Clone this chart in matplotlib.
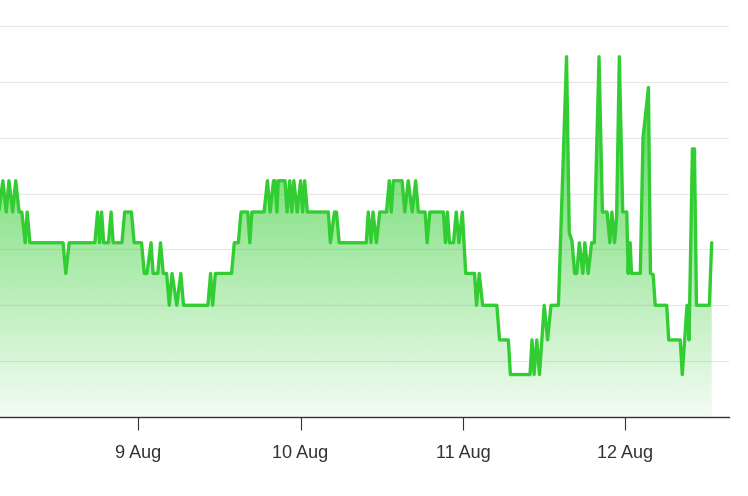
import numpy as np
import pandas as pd
import matplotlib
matplotlib.use("Agg")
import matplotlib.pyplot as plt
import matplotlib.dates as mdates
from matplotlib.ticker import FuncFormatter

plt.rcParams["font.family"] = ["Liberation Sans", "DejaVu Sans"]

# readings: hours since 8 Aug 00:00 and the level at that moment
start = pd.Timestamp("2024-08-08")
hours = [
    3.4, 4.0, 4.5, 4.9, 5.45, 5.9, 6.4, 6.8, 7.3, 7.6, 8.0, 12.9, 13.3, 13.8,
    17.6, 18.0, 18.3, 18.6, 18.9, 19.6, 20.0, 20.3, 21.6, 22.0, 23.0, 23.4,
    24.5, 24.9, 25.3, 25.9, 26.2, 26.9, 27.3, 27.7, 28.2, 28.6, 29.0, 29.7,
    30.3, 30.7, 34.3, 34.7, 35.0, 35.4, 37.8, 38.2, 38.8, 39.2, 40.2, 40.5,
    40.8, 42.6, 43.1, 43.5, 44.0, 44.2, 44.5, 44.7, 45.7, 46.0, 46.4, 46.7,
    47.0, 47.5, 48.0, 48.3, 48.6, 49.0, 52.1, 52.4, 53.0, 53.3, 53.7, 57.7,
    58.0, 58.4, 58.7, 59.2, 59.7, 60.7, 61.1, 61.4, 61.7, 63.0, 63.4, 63.9,
    64.5, 65.0, 65.4, 66.4, 66.7, 67.1, 69.1, 69.4, 69.7, 70.0, 70.6, 71.0,
    71.4, 71.9, 72.4, 73.7, 74.0, 74.4, 74.9, 77.0, 77.4, 78.7, 79.0, 81.9,
    82.2, 82.5, 82.9, 83.3, 84.0, 84.5, 85.0, 86.1, 87.3, 87.7, 88.1, 88.5,
    88.8, 89.2, 89.7, 90.0, 90.5, 91.0, 91.4, 92.1, 92.6, 93.3, 93.7, 94.0,
    94.4, 94.7, 95.1, 95.6, 96.2, 96.4, 96.7, 96.9, 98.2, 98.6, 99.4, 99.7,
    100.1, 100.4, 102.1, 102.4, 104.1, 104.4, 105.1, 105.4, 105.9, 106.2,
    106.5, 108.4, 108.75,
]
values = [
    3.67, 4.23, 3.67, 4.23, 3.67, 4.23, 3.67, 3.67, 3.12, 3.67, 3.12, 3.12, 2.57, 3.12,
    3.12, 3.67, 3.12, 3.67, 3.12, 3.12, 3.67, 3.12, 3.12, 3.67, 3.67, 3.12,
    3.12, 2.57, 2.57, 3.12, 2.57, 2.57, 3.12, 2.57, 2.57, 2.0, 2.57, 2.0,
    2.57, 2.0, 2.0, 2.57, 2.0, 2.57, 2.57, 3.12, 3.12, 3.67, 3.67, 3.12,
    3.67, 3.67, 4.23, 3.67, 4.23, 4.23, 3.67, 4.23, 4.23, 3.67, 4.23, 3.67,
    4.23, 3.67, 4.23, 3.67, 4.23, 3.67, 3.67, 3.12, 3.67, 3.67, 3.12, 3.12,
    3.67, 3.12, 3.67, 3.12, 3.67, 3.67, 4.23, 3.67, 4.23, 4.23, 3.67, 4.23,
    3.67, 4.23, 3.67, 3.67, 3.12, 3.67, 3.67, 3.12, 3.67, 3.12, 3.12, 3.67,
    3.12, 3.67, 2.57, 2.57, 2.0, 2.57, 2.0, 2.0, 1.38, 1.38, 0.76, 0.76,
    1.38, 0.76, 1.38, 0.76, 2.0, 1.38, 2.0, 2.0, 6.45, 3.3, 3.15, 2.57,
    2.57, 3.12, 2.57, 3.12, 2.57, 3.12, 3.12, 6.45, 3.67, 3.67, 3.12, 3.67,
    3.12, 3.6, 6.45, 3.67, 3.67, 2.57, 3.12, 2.57, 2.57, 5.0, 5.9, 2.57,
    2.55, 2.0, 2.0, 1.38, 1.38, 0.76, 2.0, 1.38, 4.8, 4.8,
    2.0, 2.0, 3.12,
]
x_start_h, x_end_h = 3.58, 111.35
y_max = 7

line_color = "#32cd32"

times = start + pd.to_timedelta(hours, unit="h")
x = mdates.date2num(times)
y = np.array(values)

fig = plt.figure(figsize=(7.48, 4.96), dpi=100)
ax = fig.add_axes([0, 79 / 496, 729.3 / 748, 391 / 496])

# gradient fill under the line, clipped to the area shape
area = ax.fill_between(x, y, 0, facecolor="none", edgecolor="none")
grad = np.zeros((256, 1, 4))
grad[:, 0, :3] = matplotlib.colors.to_rgb(line_color)
grad[:, 0, 3] = np.linspace(0.06, 0.95, 256)
im = ax.imshow(grad, extent=[x[0], x[-1], 0, y_max], origin="lower",
               aspect="auto", zorder=2, interpolation="bilinear")
im.set_clip_path(area.get_paths()[0], transform=ax.transData)

ax.plot(x, y, color=line_color, lw=2.4, solid_joinstyle="round",
        solid_capstyle="round", zorder=3)

xmin = mdates.date2num(start + pd.Timedelta(hours=x_start_h))
xmax = mdates.date2num(start + pd.Timedelta(hours=x_end_h))
ax.set_xlim(xmin, xmax)
ax.set_ylim(0, y_max)

ax.set_yticks(range(0, y_max + 1))
ax.yaxis.grid(True, color="#e6e6e6", lw=0.8)
ax.set_axisbelow(True)
ax.tick_params(axis="y", left=False, labelleft=False)

ax.xaxis.set_major_locator(mdates.DayLocator())
ax.xaxis.set_major_formatter(FuncFormatter(
    lambda v, p: f"{mdates.num2date(v).day} {mdates.num2date(v):%b}"))
ax.tick_params(axis="x", length=9, width=0.8, color="#333333",
               labelsize=13, labelcolor="#333333", pad=11)

for side in ["left", "right", "top"]:
    ax.spines[side].set_visible(False)
ax.spines["bottom"].set_color("#333333")
ax.spines["bottom"].set_linewidth(1.0)

fig.savefig("out.png", dpi=100)
